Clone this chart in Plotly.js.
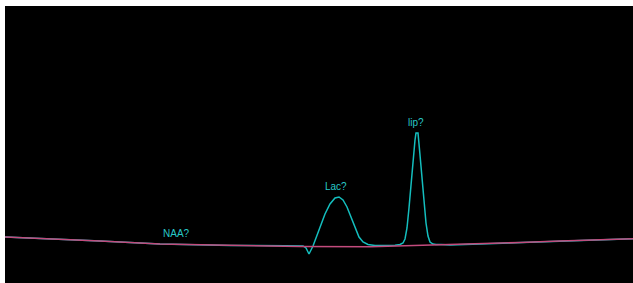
<!DOCTYPE html>
<html>
<head>
<meta charset="utf-8">
<script src="https://cdn.plot.ly/plotly-3.0.1.min.js"></script>
<style>html,body{margin:0;padding:0;background:#fff;}#chart{width:633px;height:283px;}</style>
</head>
<body>
<div id="chart"></div>
<script>
// Fitted baseline (channel positions and intensities)
const baselineX = [0, 50, 95, 155, 225, 295, 365, 435, 475, 515, 555, 595, 628];
const baselineY = [46, 44, 42, 39, 37.5, 36.5, 36.3, 38, 39, 40.5, 42, 43.5, 44.3];

const specX = [0, 50, 95, 155, 225, 280, 290, 298, 301, 304, 308, 312, 316, 320, 325, 330, 334, 338, 342, 346, 350, 354, 358, 363, 370, 380, 390, 395, 398, 400, 402, 404, 406, 408, 410, 411, 413, 415, 417, 419, 421, 423, 425, 428, 431, 436, 445, 475, 515, 555, 595, 628];
const specY = [46, 44, 42, 39, 37.5, 37.3, 37.3, 37, 35, 29, 37, 47, 58, 69, 79, 85, 86, 83, 76, 66, 55, 46, 41, 38.5, 37.5, 37.5, 37.8, 38.5, 40, 44, 55, 75, 100, 122, 143, 150, 150, 128, 104, 80, 60, 47, 41, 39, 38.5, 38.5, 38, 39, 40.5, 42, 43.5, 44.3];

// Peak labels
const labelText = ["NAA?", "Lac?", "lip?"];
const labelX = [171, 330.5, 410.5];
const labelY = [50, 97, 160.5];

const cyan = "rgb(20,190,190)";
const pink = "rgb(195,75,125)";

const data = [
  {x: specX, y: specY, type: "scatter", mode: "lines", line: {color: cyan, width: 1.5}, hoverinfo: "skip"},
  {x: baselineX, y: baselineY, type: "scatter", mode: "lines", line: {color: pink, width: 1.6}, hoverinfo: "skip"}
];

const annotations = labelText.map((t, i) => ({
  x: labelX[i], y: labelY[i], text: t, showarrow: false,
  xanchor: "center", yanchor: "middle",
  font: {family: "Liberation Sans, Arial, sans-serif", size: 10, color: "rgb(40,200,200)"}
}));

const layout = {
  width: 633, height: 283,
  margin: {l: 5, r: 0, t: 6, b: 0, pad: 0},
  paper_bgcolor: "#ffffff",
  plot_bgcolor: "#000000",
  showlegend: false,
  xaxis: {range: [0, 628], visible: false, fixedrange: true},
  yaxis: {range: [0, 277], visible: false, fixedrange: true},
  annotations: annotations
};

Plotly.newPlot("chart", data, layout, {displayModeBar: false, staticPlot: true});
</script>
</body>
</html>
